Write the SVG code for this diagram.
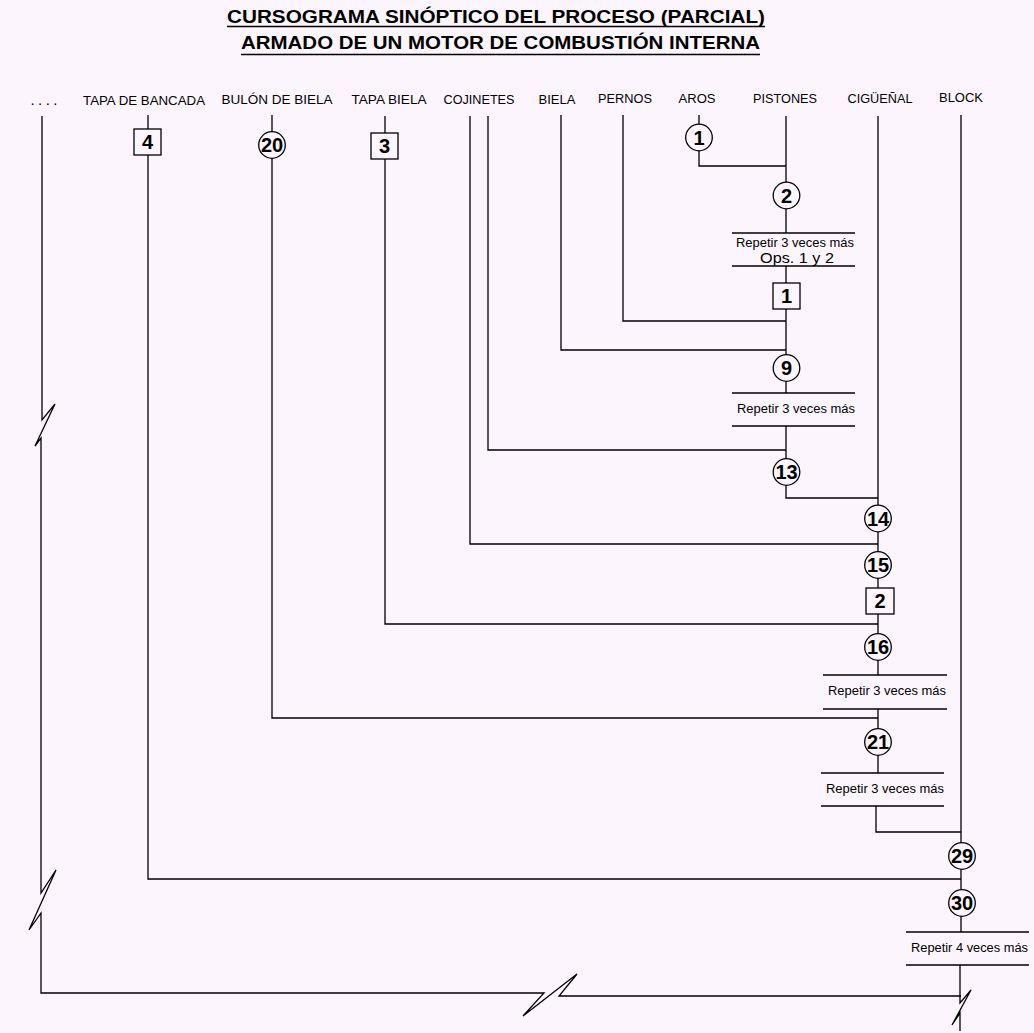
<svg xmlns="http://www.w3.org/2000/svg" width="1034" height="1033" viewBox="0 0 1034 1033">
<style>
.bg{fill:#fdf5fd}
.ln{fill:none;stroke:#000;stroke-width:1.3}
.nd{fill:#fdf5fd;stroke:#000;stroke-width:1.3}
.num{font-family:"Liberation Sans",Arial,sans-serif;font-weight:bold;font-size:20px;text-anchor:middle;fill:#000}
.hdr{font-family:"Liberation Sans",Arial,sans-serif;font-size:12.3px;text-anchor:middle;fill:#000}
.rep{font-family:"Liberation Sans",Arial,sans-serif;font-size:12.3px;text-anchor:middle;fill:#000}
.ttl{font-family:"Liberation Sans",Arial,sans-serif;font-weight:bold;font-size:19px;fill:#000}
</style>
<rect class="bg" x="0" y="0" width="1034" height="1033"/>
<g id="title">
<text class="ttl" x="227" y="23" textLength="538" lengthAdjust="spacingAndGlyphs">CURSOGRAMA SINÓPTICO DEL PROCESO (PARCIAL)</text>
<line class="ln" x1="227" y1="26.5" x2="765" y2="26.5"/>
<text class="ttl" x="241" y="49" textLength="519" lengthAdjust="spacingAndGlyphs">ARMADO DE UN MOTOR DE COMBUSTIÓN INTERNA</text>
<line class="ln" x1="241" y1="54.5" x2="760" y2="54.5"/>
</g>
<g id="headers">
<text class="hdr" x="44" y="105" style="font-size:15px" textLength="27" lengthAdjust="spacing">....</text>
<text class="hdr" x="144" y="105" textLength="122" lengthAdjust="spacingAndGlyphs">TAPA DE BANCADA</text>
<text class="hdr" x="277" y="104" textLength="111" lengthAdjust="spacingAndGlyphs">BULÓN  DE BIELA</text>
<text class="hdr" x="389" y="104" textLength="75" lengthAdjust="spacingAndGlyphs">TAPA BIELA</text>
<text class="hdr" x="479" y="104" textLength="71" lengthAdjust="spacingAndGlyphs">COJINETES</text>
<text class="hdr" x="557" y="104" textLength="37" lengthAdjust="spacingAndGlyphs">BIELA</text>
<text class="hdr" x="625" y="103" textLength="54" lengthAdjust="spacingAndGlyphs">PERNOS</text>
<text class="hdr" x="697" y="103" textLength="37" lengthAdjust="spacingAndGlyphs">AROS</text>
<text class="hdr" x="785" y="103" textLength="64" lengthAdjust="spacingAndGlyphs">PISTONES</text>
<text class="hdr" x="880" y="103" textLength="65" lengthAdjust="spacingAndGlyphs">CIGÜEÑAL</text>
<text class="hdr" x="961" y="102" textLength="44" lengthAdjust="spacingAndGlyphs">BLOCK</text>
</g>
<g id="connectors">
<path class="ln" d="M42,116 V420 L55,404 L35,446 L41,438 V893 L56,870 L29,930 L41,913 V993 H544 L523,1016 L577,974 L559,996 H961"/>
<path class="ln" d="M148,115 V129 M148,155 V879 H961"/>
<path class="ln" d="M272,115 V132 M272,158 V718 H878"/>
<path class="ln" d="M385,116 V133 M385,159 V624 H878"/>
<path class="ln" d="M470,116 V544 H878"/>
<path class="ln" d="M488,116 V450 H786"/>
<path class="ln" d="M561,115 V350 H786"/>
<path class="ln" d="M623,115 V321 H786"/>
<path class="ln" d="M699,115 V124 M699,151 V166 H786"/>
<path class="ln" d="M786,116 V182 M786,209 V233 M786,266 V283 M786,309 V355 M786,381 V393 M786,426 V459 M786,485 V498 H878"/>
<path class="ln" d="M878,116 V505 M878,532 V552 M878,578 V588 M878,614 V634 M878,660 V675 M878,709 V729 M878,755 V773 M876,806 V832 H961"/>
<path class="ln" d="M961,115 V843 M961,869 V890 M961,916 V932 M960,965 V1003 L971,990 L952,1025 L960,1013 V1031"/>
</g>
<g id="repeat-ops-1-2">
<line class="ln" x1="732" y1="233" x2="855" y2="233"/>
<line class="ln" x1="732" y1="266" x2="855" y2="266"/>
<text class="rep" x="795" y="247" textLength="118" lengthAdjust="spacingAndGlyphs">Repetir 3 veces más</text>
<text class="rep" x="797" y="263" style="font-size:14.5px" textLength="74" lengthAdjust="spacingAndGlyphs">Ops. 1 y 2</text>
</g>
<g id="repeat-9">
<line class="ln" x1="732" y1="393" x2="855" y2="393"/>
<line class="ln" x1="732" y1="426" x2="855" y2="426"/>
<text class="rep" x="796" y="413" textLength="118" lengthAdjust="spacingAndGlyphs">Repetir 3 veces más</text>
</g>
<g id="repeat-16">
<line class="ln" x1="823" y1="675" x2="947" y2="675"/>
<line class="ln" x1="823" y1="709" x2="947" y2="709"/>
<text class="rep" x="887" y="695" textLength="118" lengthAdjust="spacingAndGlyphs">Repetir 3 veces más</text>
</g>
<g id="repeat-21">
<line class="ln" x1="821" y1="773" x2="944" y2="773"/>
<line class="ln" x1="821" y1="806" x2="944" y2="806"/>
<text class="rep" x="885" y="793" textLength="118" lengthAdjust="spacingAndGlyphs">Repetir 3 veces más</text>
</g>
<g id="repeat-30">
<line class="ln" x1="906" y1="932" x2="1029" y2="932"/>
<line class="ln" x1="906" y1="965" x2="1029" y2="965"/>
<text class="rep" x="969.5" y="952" textLength="117" lengthAdjust="spacingAndGlyphs">Repetir 4 veces más</text>
</g>
<g id="sq4"><rect class="nd" x="134" y="129" width="27" height="26"/><text class="num" x="147.5" y="149">4</text></g>
<g id="c20"><circle class="nd" cx="272" cy="145" r="13.3"/><text class="num" x="272" y="152">20</text></g>
<g id="sq3"><rect class="nd" x="371" y="133" width="27" height="26"/><text class="num" x="384.5" y="153">3</text></g>
<g id="c1"><circle class="nd" cx="699" cy="137.5" r="13.3"/><text class="num" x="699" y="144.5">1</text></g>
<g id="c2"><circle class="nd" cx="786.5" cy="195.5" r="13.3"/><text class="num" x="786.5" y="202.5">2</text></g>
<g id="sq1"><rect class="nd" x="773" y="283" width="27" height="26"/><text class="num" x="786.5" y="303">1</text></g>
<g id="c9"><circle class="nd" cx="786.5" cy="368" r="13.3"/><text class="num" x="786.5" y="375">9</text></g>
<g id="c13"><circle class="nd" cx="786.5" cy="472" r="13.3"/><text class="num" x="786.5" y="479">13</text></g>
<g id="c14"><circle class="nd" cx="878" cy="518.5" r="13.3"/><text class="num" x="878" y="525.5">14</text></g>
<g id="c15"><circle class="nd" cx="878" cy="565" r="13.3"/><text class="num" x="878" y="572">15</text></g>
<g id="sq2"><rect class="nd" x="866" y="588" width="28" height="26"/><text class="num" x="880" y="608">2</text></g>
<g id="c16"><circle class="nd" cx="878" cy="647" r="13.3"/><text class="num" x="878" y="654">16</text></g>
<g id="c21"><circle class="nd" cx="878" cy="742" r="13.3"/><text class="num" x="878" y="749">21</text></g>
<g id="c29"><circle class="nd" cx="962" cy="856" r="13.3"/><text class="num" x="962" y="863">29</text></g>
<g id="c30"><circle class="nd" cx="962" cy="903" r="13.3"/><text class="num" x="962" y="910">30</text></g>
</svg>
